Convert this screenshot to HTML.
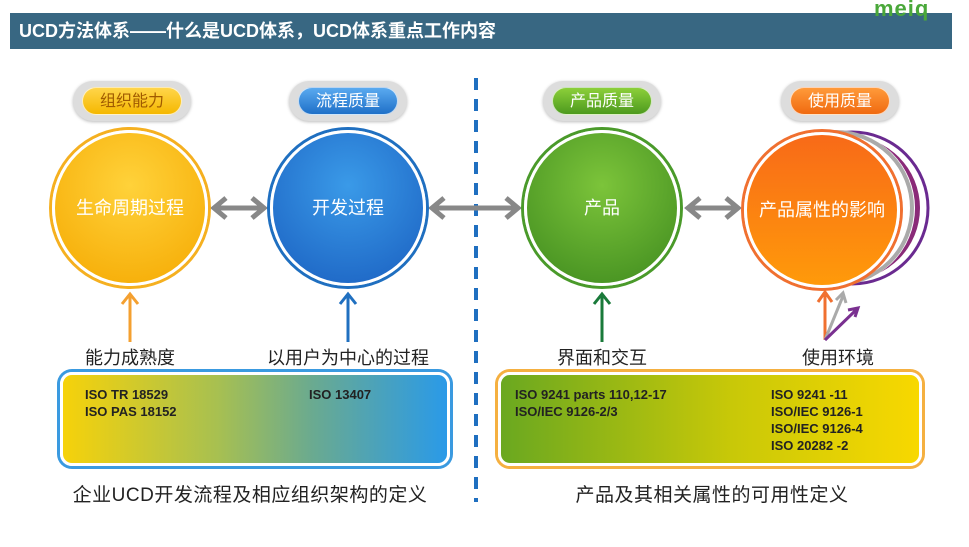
<!DOCTYPE html><html><head><meta charset="utf-8"><style>
body{margin:0;width:969px;height:547px;background:#fff;position:relative;overflow:hidden;font-family:"Liberation Sans","Noto Sans CJK SC",sans-serif}
.a{position:absolute}
.hdr{left:10px;top:13px;width:942px;height:36px;background:#386782;color:#fff;font-weight:bold;font-size:18px;line-height:36px;padding-left:9px;box-sizing:border-box}
.pill{position:absolute;width:118px;height:40px;border-radius:20px;background:#ddd;box-shadow:0 1px 3px #bbb}
.pill div{position:absolute;left:9px;top:6px;width:100px;height:28px;border-radius:14px;color:#fff;font-size:16px;line-height:28px;text-align:center;border:1px solid rgba(255,255,255,.7);box-sizing:border-box}
.c{position:absolute;width:156px;height:156px;border-radius:50%;box-sizing:border-box;border:3px solid #fff;color:#fff;font-size:18px;text-align:center;line-height:150px}
.lbl{position:absolute;font-size:18px;color:#222;text-align:center;width:200px}
.box{position:absolute;border-radius:12px;box-sizing:border-box;border:3px solid #fff;font-weight:bold;font-size:13px;color:#222;line-height:17px}
</style></head><body>
<div class="a hdr">UCD方法体系——什么是UCD体系，UCD体系重点工作内容</div>
<div class="a" style="left:874px;top:-4px;color:#4aa83a;font-weight:bold;font-size:22px;letter-spacing:1px">meiq</div>

<div class="pill" style="left:73px;top:81px"><div style="background:linear-gradient(#ffd54a,#f5b800);color:#a05a00">组织能力</div></div>
<div class="pill" style="left:289px;top:81px"><div style="background:linear-gradient(#5aaaf0,#1f70c8)">流程质量</div></div>
<div class="pill" style="left:543px;top:81px"><div style="background:linear-gradient(#8ccf3a,#4d9a1e)">产品质量</div></div>
<div class="pill" style="left:781px;top:81px"><div style="background:linear-gradient(#ff9a3a,#f06a10)">使用质量</div></div>

<svg class="a" style="left:0;top:0" width="969" height="547">
<line x1="476" y1="78" x2="476" y2="502" stroke="#1f6fc0" stroke-width="4" stroke-dasharray="12,9"/>
<circle cx="852" cy="208" r="76" fill="#fff" stroke="#6a2a90" stroke-width="3"/>
<circle cx="848" cy="208" r="72" fill="#8a2a78"/>
<circle cx="838" cy="208" r="77" fill="#fff"/>
<circle cx="836" cy="208" r="76" fill="#fff" stroke="#aaa" stroke-width="4"/>
<g stroke="#888" stroke-width="5" fill="none">
<line x1="216" y1="208" x2="262" y2="208"/><path d="M226,198L214,208L226,218M252,198L264,208L252,218"/>
<line x1="434" y1="208" x2="516" y2="208"/><path d="M444,198L432,208L444,218M506,198L518,208L506,218"/>
<line x1="690" y1="208" x2="736" y2="208"/><path d="M700,198L688,208L700,218M726,198L738,208L726,218"/>
</g>
<g stroke-width="3" fill="none">
<path d="M130,342V296M122,304L130,294L138,304" stroke="#f4a030"/>
<path d="M348,342V296M340,304L348,294L356,304" stroke="#2070c0"/>
<path d="M602,342V296M594,304L602,294L610,304" stroke="#1a7a3a"/>
<path d="M825,340V294M818,302L825,292L832,302" stroke="#f07030"/>
<path d="M825,340L843,296M836,300L843,293L846,303" stroke="#aaa"/>
<path d="M825,340L856,310M848,310L858,308L855,317" stroke="#7a3090"/>
</g>
</svg>

<div class="c" style="left:52px;top:130px;background:radial-gradient(circle at 50% 35%,#ffd23a,#f5a800);box-shadow:0 0 0 3px #f5b020">生命周期过程</div>
<div class="c" style="left:270px;top:130px;background:radial-gradient(circle at 50% 35%,#3a9ae8,#1a5fc0);box-shadow:0 0 0 3px #1f6fc0">开发过程</div>
<div class="c" style="left:524px;top:130px;background:radial-gradient(circle at 50% 35%,#7cc43a,#3e8a1e);box-shadow:0 0 0 3px #4a9a2a">产品</div>
<div class="c" style="left:744px;top:132px;background:linear-gradient(#f86a18,#ff9a0a);box-shadow:0 0 0 3px #f07030;font-size:18px">产品属性的影响</div>

<div class="lbl" style="left:30px;top:344px">能力成熟度</div>
<div class="lbl" style="left:248px;top:344px">以用户为中心的过程</div>
<div class="lbl" style="left:502px;top:344px">界面和交互</div>
<div class="lbl" style="left:738px;top:344px">使用环境</div>

<div class="box" style="left:60px;top:372px;width:390px;height:94px;background:linear-gradient(90deg,#f6d20a,#a8c050 40%,#6aaa90 65%,#2a9ae8);box-shadow:0 0 0 3px #3a9ae0">
<div class="a" style="left:22px;top:11px">ISO TR 18529<br>ISO PAS 18152</div>
<div class="a" style="left:246px;top:11px">ISO 13407</div></div>
<div class="box" style="left:498px;top:372px;width:424px;height:94px;background:linear-gradient(90deg,#6aa820,#c8c808 55%,#f8d800);box-shadow:0 0 0 3px #f5b040">
<div class="a" style="left:14px;top:11px">ISO 9241 parts 110,12-17<br>ISO/IEC 9126-2/3</div>
<div class="a" style="left:270px;top:11px">ISO 9241 -11<br>ISO/IEC 9126-1<br>ISO/IEC 9126-4<br>ISO 20282 -2</div></div>

<div class="a" style="left:50px;top:480px;width:400px;text-align:center;font-size:19px;color:#222;letter-spacing:0.5px">企业UCD开发流程及相应组织架构的定义</div>
<div class="a" style="left:510px;top:480px;width:404px;text-align:center;font-size:19px;color:#222;letter-spacing:0.5px">产品及其相关属性的可用性定义</div>
</body></html>
